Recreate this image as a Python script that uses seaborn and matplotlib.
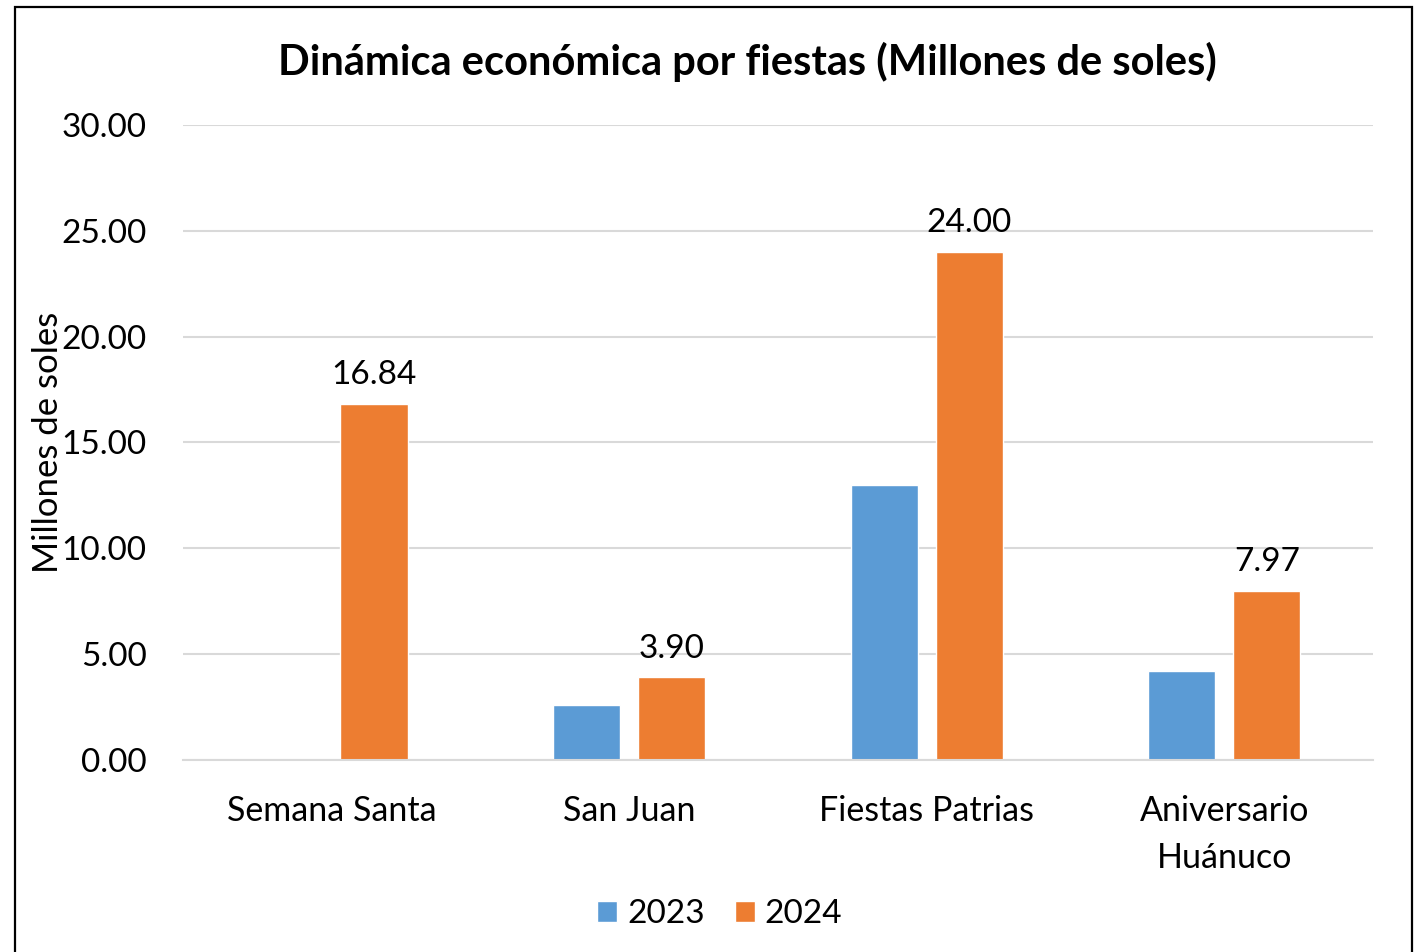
import pandas as pd
import matplotlib
matplotlib.use('Agg')
import matplotlib.pyplot as plt
import seaborn as sns
from matplotlib.patches import Rectangle

fiestas = ['Semana Santa', 'San Juan', 'Fiestas Patrias', 'Aniversario\nHuánuco']
años = ['2023', '2024']
v2023 = [0.0, 2.60, 13.00, 4.20]
v2024 = [16.84, 3.90, 24.00, 7.97]
colores = ['#5B9BD5', '#ED7D31']

df = pd.DataFrame({'fiesta': fiestas * 2,
                   'año': [años[0]] * 4 + [años[1]] * 4,
                   'valor': v2023 + v2024})

sns.set_theme(style='white')
plt.rcParams['font.family'] = ['Lato', 'DejaVu Sans']
plt.rcParams['text.color'] = 'black'
plt.rcParams['axes.labelcolor'] = 'black'
plt.rcParams['xtick.color'] = 'black'
plt.rcParams['ytick.color'] = 'black'

fig = plt.figure(figsize=(14.17, 9.52), dpi=100)
ax = fig.add_axes([0.129, 0.2017, 0.84, 0.667])

sns.barplot(data=df, x='fiesta', y='valor', hue='año', palette=colores,
            width=0.571, gap=0.21, errorbar=None, ax=ax, saturation=1)

ax.bar_label(ax.containers[1], fmt='%.2f', fontsize=24, padding=10)

ax.set_ylim(0, 30)
ax.set_yticks(range(0, 31, 5))
ax.set_yticklabels([f'{v:.2f}' for v in range(0, 31, 5)])
ax.yaxis.grid(True, color='#d9d9d9', linewidth=1.5)
ax.set_axisbelow(True)
for s in ['top', 'right', 'left']:
    ax.spines[s].set_visible(False)
ax.spines['bottom'].set_color('#d9d9d9')
ax.spines['bottom'].set_linewidth(1.5)
ax.tick_params(axis='y', length=0, pad=26, labelsize=24)
ax.tick_params(axis='x', length=0, pad=25, labelsize=24.5)
for t in ax.get_xticklabels():
    t.set_linespacing(1.6)
ax.set_xlabel('')
ax.set_ylabel('Millones de soles', fontsize=25)
ax.yaxis.set_label_coords(-0.100, 0.5)

fig.text(747 / 1417, 1 - 62 / 952,
         'Dinámica económica por fiestas (Millones de soles)',
         fontsize=30, fontweight='bold', ha='center', va='center')

ax.get_legend().remove()
h, l = ax.get_legend_handles_labels()
fig.legend(h, l, loc='center', bbox_to_anchor=(0.508, 0.040), ncol=2,
           frameon=False, fontsize=24, handlelength=0.6, handleheight=0.6,
           handletextpad=0.3, columnspacing=0.9)

fig.patches.append(Rectangle((15 / 1417, -0.02), 1397 / 1417, 1.02 - 7 / 952,
                             transform=fig.transFigure, fill=False,
                             edgecolor='black', linewidth=1.6))

fig.savefig('out.png', dpi=100)
